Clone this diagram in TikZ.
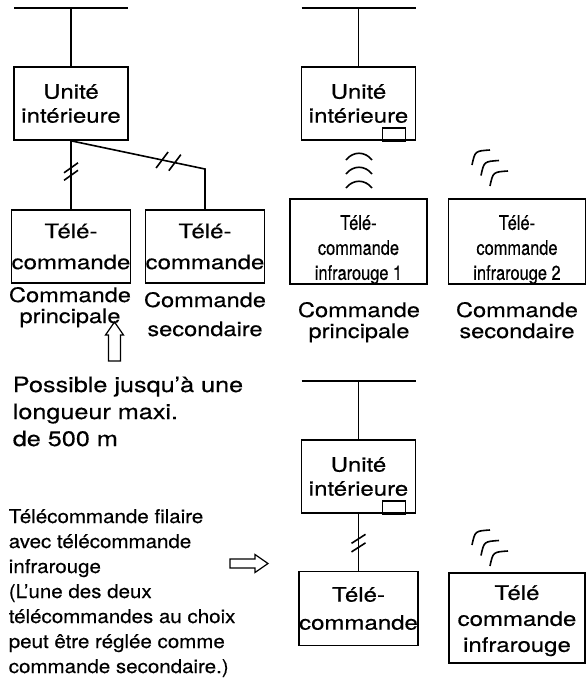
\documentclass[tikz,border=0pt]{standalone}
\usepackage{fontspec}
\setmainfont{TeX Gyre Heros}[FakeStretch=1.2, FakeBold=0.4]
\newfontfamily\irfont{TeX Gyre Heros}[FakeStretch=0.82, FakeBold=0.4]
\newfontfamily\lblfont{TeX Gyre Heros}[FakeStretch=1.18, FakeBold=0.4]
\newfontfamily\notefont{TeX Gyre Heros}[FakeStretch=1.08, FakeBold=0.4]
\usetikzlibrary{calc}

\begin{document}
\begin{tikzpicture}[x=1pt, y=-1pt, line width=1.6pt,
  box/.style={draw, rectangle, inner sep=0pt, minimum width=114pt, minimum height=73pt,
    align=center, font=\fontsize{20}{24}\selectfont},
  irbox/.style={box, minimum width=137pt, minimum height=83pt, font=\irfont\fontsize{20}{25}\selectfont},
  lbl/.style={anchor=base, align=center, inner sep=0pt, font=\lblfont\fontsize{20}{21}\selectfont},
  note/.style={anchor=base west, align=left, inner sep=0pt}]
  \useasboundingbox (0,0) rectangle (587,678);

  % wired: main + secondary remote
  \node[box] (unitL) at (71,103.5) {Unité\\intérieure};
  \node[box, font=\fontsize{20}{31}\selectfont] (remL0) at (71,246.5) {Télé-\\commande};
  \node[box, font=\fontsize{20}{31}\selectfont] (remL1) at (205,246.5) {Télé-\\commande};
  \coordinate (bendL) at (205,169);

  \draw ($(unitL.north)+(-57,-58)$) -- ++(114,0);
  \draw (unitL.north) -- ++(0,-58);
  \draw (unitL.south) -- (remL0.north);
  \draw (unitL.south) -- (bendL) -- (remL1.north);

  \draw ($(unitL.south)+(0,27)$) ++(-7,5) -- ++(14,-10);
  \draw ($(unitL.south)+(0,34.5)$) ++(-7,5) -- ++(14,-10);
  \draw ($(unitL.south)!0.68!(bendL)$) ++(-6,8) -- ++(12,-16);
  \draw ($(unitL.south)!0.775!(bendL)$) ++(-6,8) -- ++(12,-16);

  \node[lbl] (mainL) at (70,323) {Commande\\principale};
  \node[lbl, font=\lblfont\fontsize{20}{29}\selectfont] (subL) at (205,336) {Commande\\secondaire};

  \draw[line width=1.2pt] (114.5,322) -- (123.5,335) -- (120.5,335) -- (120.5,361)
    -- (108.5,361) -- (108.5,335) -- (105.5,335) -- cycle;

  \node[note, font=\fontsize{21}{27}\selectfont] (maxlen) at (12,446)
    {Possible jusqu’à une\\longueur maxi.\\de 500 m};

  % two infrared remotes
  \node[box] (unitR) at (358.5,103.5) {Unité\\intérieure};
  \draw ($(unitR.north)+(-57,-58)$) -- ++(114,0);
  \draw (unitR.north) -- ++(0,-58);
  \draw ($(unitR.south east)+(-11,0)$) rectangle ++(-23,-13);

  \node[irbox] (irR0) at (358.5,241.5) {\rule{0pt}{31pt}Télé-\\commande\\infrarouge 1};
  \node[irbox] (irR1) at (517,241.5) {\rule{0pt}{31pt}Télé-\\commande\\infrarouge 2};

  \draw (346,160) .. controls (353,151) and (365,151) .. (372,160);
  \draw (346,174) .. controls (353,165) and (365,165) .. (372,174);
  \draw (346,188) .. controls (353,179) and (365,179) .. (372,188);

  \draw (472,165) .. controls (475,151) .. (490,150);
  \draw (481,175.5) .. controls (484,161.5) .. (499,160.5);
  \draw (490,186) .. controls (493,172) .. (508,171);

  \node[lbl] (mainR) at (359,338) {Commande\\principale};
  \node[lbl] (subR) at (517,338) {Commande\\secondaire};

  % wired + infrared remote
  \node[box] (unitB) at (358.5,476.5) {Unité\\intérieure};
  \draw ($(unitB.north)+(-57,-58)$) -- ++(114,0);
  \draw (unitB.north) -- ++(0,-58);
  \draw ($(unitB.south east)+(-11,0)$) rectangle ++(-23,-13);

  \node[box, minimum height=74pt, font=\fontsize{20}{28}\selectfont] (remB) at (358.5,608.5) {Télé-\\commande};
  \draw (unitB.south) -- (remB.north);
  \draw ($(unitB.south)!0.44!(remB.north)$) ++(-7,4.5) -- ++(14,-9);
  \draw ($(unitB.south)!0.59!(remB.north)$) ++(-7,4.5) -- ++(14,-9);

  \node[box, minimum width=136pt, minimum height=90pt, font=\fontsize{20}{26}\selectfont] (irB) at (517,618)
    {\rule{0pt}{20pt}Télé\\commande\\infrarouge};

  \draw (472,545) .. controls (475,531) .. (490,530);
  \draw (481,555.5) .. controls (484,541.5) .. (499,540.5);
  \draw (490,566) .. controls (493,552) .. (508,551);

  \node[note, font=\notefont\fontsize{19}{25}\selectfont] (combo) at (8,673)
    {Télécommande filaire\\avec télécommande\\infrarouge\\(L’une des deux\\télécommandes au choix\\peut être réglée comme\\commande secondaire.)};

  \draw[line width=1.2pt] (268,563.5) -- (255,572.5) -- (255,568) -- (230,568)
    -- (230,559) -- (255,559) -- (255,554.5) -- cycle;
\end{tikzpicture}
\end{document}
